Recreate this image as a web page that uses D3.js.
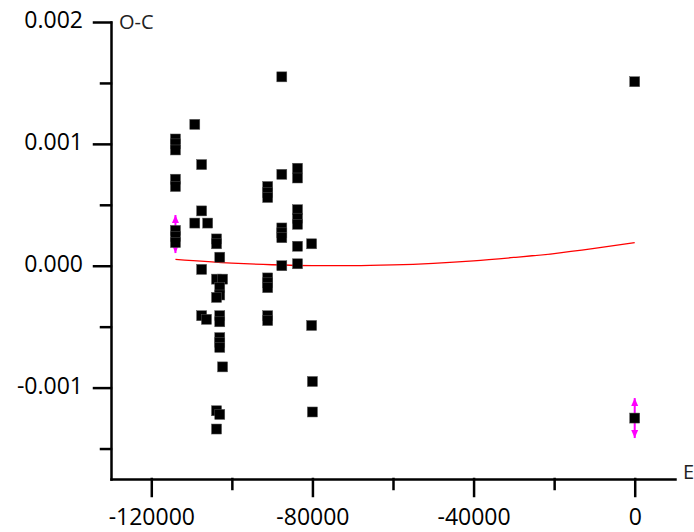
<!DOCTYPE html>
<html>
<head>
<meta charset="utf-8">
<script src="https://cdn.jsdelivr.net/npm/d3@7"></script>
<style>
  body { margin: 0; background: #fff; }
  .tick text { font-family: "Open Sans", sans-serif; font-size: 23px; fill: #000; }
  .axis-title { font-family: "Open Sans", sans-serif; font-size: 20px; fill: #222; }
</style>
</head>
<body>
<div class="chart"></div>
<script>
// O-C diagram: residuals vs epoch

// tick values and labels
var xMajor = [-120000, -80000, -40000, 0];
var xMajorLabels = ["-120000", "-80000", "-40000", "0"];
var xMinor = [-100000, -60000, -20000];
var yMajor = [-0.001, 0.000, 0.001, 0.002];
var yMajorLabels = ["-0.001", "0.000", "0.001", "0.002"];
var yMinor = [-0.0015, -0.0005, 0.0005, 0.0015];

// observed points (epoch E, O-C)
var pointE = [
  -114000, -114000, -114000, -114000, -114000, -114000, -114000, -114000,
  -109200, -107500, -107500, -109200, -106000,
  -103800, -103800, -103000, -107500,
  -103800, -102300, -103000, -103000, -103800,
  -107500, -106300, -103000, -103000,
  -103000, -103000, -103000, -102300,
  -103800, -103000, -103800,
  -91100, -91100, -91100, -91100, -91100, -91100, -91100, -91100,
  -87600, -87600, -87600, -87600, -87600, -87600,
  -83700, -83700, -83700, -83700, -83700, -83700, -83700,
  -80200, -80200, -80000, -80000,
  0, 0
];
var pointC = [
  0.00104, 0.00100, 0.00095, 0.00071, 0.00065, 0.00029, 0.00024, 0.00019,
  0.00116, 0.00083, 0.00045, 0.00035, 0.00035,
  0.00022, 0.00018, 0.00007, -0.00003,
  -0.00011, -0.00011, -0.00018, -0.00024, -0.00026,
  -0.00041, -0.00044, -0.00041, -0.00046,
  -0.00059, -0.00063, -0.00067, -0.00083,
  -0.00119, -0.00122, -0.00134,
  0.00065, 0.00060, 0.00056, -0.00010, -0.00014, -0.00018, -0.00041, -0.00045,
  0.00155, 0.00075, 0.00031, 0.00027, 0.00023, 0.00000,
  0.00080, 0.00072, 0.00046, 0.00039, 0.00034, 0.00016, 0.000016,
  0.00018, -0.00049, -0.00095, -0.00120,
  0.00151, -0.00125
];

// error bars (epoch, O-C, half length)
var errE = [-114000, 0];
var errC = [0.00026, -0.00125];
var errD = [0.000156, 0.000164];

// fitted curve
var fitE = [-114000, -100000, -90000, -80000, -70000, -60000, -50000, -40000, -30000, -20000, -10000, 0];
var fitC = [0.000053, 0.000022, 0.000008, 0.000001, 0.000001, 0.000007, 0.00002, 0.00004, 0.000068, 0.0001, 0.000142, 0.000189];

var svgWidth = 694;
var svgHeight = 532;
var margin = { top: 22, right: 19, bottom: 53, left: 111 };
var width = svgWidth - margin.left - margin.right;
var height = svgHeight - margin.top - margin.bottom;

var svg = d3.select(".chart")
    .append("svg")
    .attr("width", svgWidth)
    .attr("height", svgHeight)
    .append("g")
    .attr("transform", "translate(" + margin.left + "," + margin.top + ")");

var xScale = d3.scaleLinear().domain([-130000, 10000]).range([0, width]);
var yScale = d3.scaleLinear().domain([-0.00175, 0.002]).range([height, 0]);

// minor ticks
svg.append("g")
    .attr("class", "minor")
    .attr("transform", "translate(0," + height + ")")
    .call(d3.axisBottom(xScale).tickValues(xMinor).tickSize(10).tickFormat(""));
svg.append("g")
    .attr("class", "minor")
    .call(d3.axisLeft(yScale).tickValues(yMinor).tickSize(10).tickFormat(""));
svg.selectAll(".minor .domain").remove();

// major axes
svg.append("g")
    .attr("class", "x-axis")
    .attr("transform", "translate(0," + height + ")")
    .call(d3.axisBottom(xScale)
        .tickValues(xMajor)
        .tickSize(17)
        .tickSizeOuter(0)
        .tickPadding(8)
        .tickFormat(function(d, i) { return xMajorLabels[i]; }));

svg.append("g")
    .attr("class", "y-axis")
    .call(d3.axisLeft(yScale)
        .tickValues(yMajor)
        .tickSize(17)
        .tickSizeOuter(0)
        .tickPadding(11)
        .tickFormat(function(d, i) { return yMajorLabels[i]; }));

svg.selectAll(".domain, .tick line")
    .attr("stroke", "#000")
    .attr("stroke-width", 2.5)
    .attr("stroke-linecap", "square");

svg.selectAll(".y-axis .tick text").attr("dy", "0.25em");
svg.selectAll(".x-axis .tick text").attr("dy", "0.9em");

// axis titles
svg.append("text")
    .attr("class", "axis-title")
    .attr("x", 8)
    .attr("y", 0)
    .attr("dy", "0.35em")
    .text("O-C");

svg.append("text")
    .attr("class", "axis-title")
    .attr("x", width + 8)
    .attr("y", height - 7)
    .attr("dy", "0.35em")
    .text("E");

// fitted curve
var line = d3.line()
    .x(function(d, i) { return xScale(fitE[i]); })
    .y(function(d, i) { return yScale(fitC[i]); })
    .curve(d3.curveMonotoneX);

svg.append("path")
    .datum(fitE)
    .attr("d", line)
    .attr("fill", "none")
    .attr("stroke", "#ff0000")
    .attr("stroke-width", 1.3);

// error bars
var errs = svg.selectAll(".err")
    .data(errE)
    .enter()
    .append("g")
    .attr("class", "err");

errs.append("line")
    .attr("x1", function(d) { return xScale(d); })
    .attr("x2", function(d) { return xScale(d); })
    .attr("y1", function(d, i) { return yScale(errC[i] + errD[i]); })
    .attr("y2", function(d, i) { return yScale(errC[i] - errD[i]); })
    .attr("stroke", "#ff00ff")
    .attr("stroke-width", 2);

errs.append("path")
    .attr("d", function(d, i) {
        var x = xScale(d);
        var yt = yScale(errC[i] + errD[i]);
        return "M" + x + "," + yt + "L" + (x - 3.5) + "," + (yt + 8) + "L" + (x + 3.5) + "," + (yt + 8) + "Z";
    })
    .attr("fill", "#ff00ff");

errs.append("path")
    .attr("d", function(d, i) {
        var x = xScale(d);
        var yb = yScale(errC[i] - errD[i]);
        return "M" + x + "," + yb + "L" + (x - 3.5) + "," + (yb - 8) + "L" + (x + 3.5) + "," + (yb - 8) + "Z";
    })
    .attr("fill", "#ff00ff");

// points
svg.selectAll(".pt")
    .data(pointE)
    .enter()
    .append("rect")
    .attr("class", "pt")
    .attr("x", function(d) { return xScale(d) - 5; })
    .attr("y", function(d, i) { return yScale(pointC[i]) - 5; })
    .attr("width", 10)
    .attr("height", 10)
    .attr("fill", "#000")
    .attr("stroke", "#555")
    .attr("stroke-width", 0.5);
</script>
</body>
</html>
